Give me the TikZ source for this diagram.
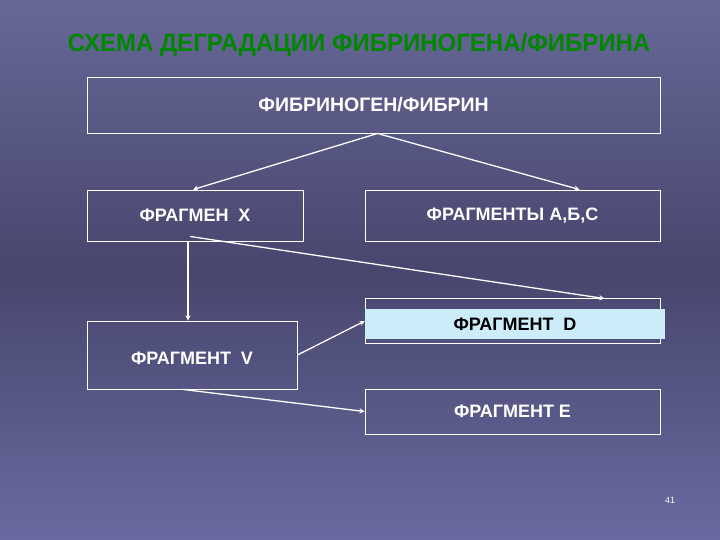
\documentclass[tikz,border=0pt]{standalone}
\usepackage{fontspec}
\setmainfont{Liberation Sans}
\usetikzlibrary{calc}
\definecolor{slatetop}{RGB}{104,104,152}
\definecolor{slatemid}{RGB}{70,70,110}
\definecolor{slatebot}{RGB}{106,106,160}
\definecolor{titlegreen}{RGB}{0,135,0}
\definecolor{paleblue}{RGB}{204,236,250}
\begin{document}
\begin{tikzpicture}[x=1pt,y=-1pt,>=stealth,
  box/.style={draw=white,line width=0.9pt,minimum width=#1,inner sep=0pt,
    text=white,font=\fontsize{18}{21}\selectfont\bfseries},
  link/.style={->,draw=white,line width=1.3pt}]
  % background
  \shade[top color=slatetop,bottom color=slatebot,middle color=slatemid] (0,0) rectangle (720,540);
  \useasboundingbox (0,0) rectangle (720,540);
  % title
  \node (title)[text=titlegreen,xscale=0.96] at (359,45) {\fontsize{25}{29}\selectfont\bfseries СХЕМА ДЕГРАДАЦИИ ФИБРИНОГЕНА/ФИБРИНА};
  % boxes
  \node (fib)[box=573pt,minimum height=56pt,font=\fontsize{19.5}{22}\selectfont\bfseries] at (373.5,105) {ФИБРИНОГЕН/ФИБРИН};
  \node (fx)[box=216pt,minimum height=51pt] at (195,215.5) {ФРАГМЕН\ \ X\hspace{10pt}};
  \node (fabc)[box=295pt,minimum height=51pt] at (512.5,215.5) {ФРАГМЕНТЫ А,Б,С};
  \node (fd)[box=295pt,minimum height=45pt] at (512.5,320.5) {};
  \node (fdfill)[fill=paleblue,minimum width=300pt,minimum height=30pt,inner sep=0pt,
    font=\fontsize{18}{21}\selectfont\bfseries] at (515,324) {ФРАГМЕНТ\ \ D};
  \node (fv)[box=210pt,minimum height=68pt] at (192,355) {\rule{0pt}{20pt}ФРАГМЕНТ\ \ V};
  \node (fe)[box=295pt,minimum height=45pt] at (512.5,411.5) {ФРАГМЕНТ E};
  \node (page)[text=white,font=\fontsize{9}{10}\selectfont] at (670,500) {41};
  % arrows
  \draw[link] ([xshift=4pt]fib.south) -- ([xshift=-2pt]fx.north);
  \draw[link] ([xshift=4pt]fib.south) -- ([xshift=67pt]fabc.north);
  \draw[link] ([xshift=-7pt]fx.south) -- ([xshift=-7pt]fx.south |- fv.north);
  \draw[link] ([xshift=-5pt,yshift=5pt]fx.south) -- ([xshift=92pt,yshift=-1pt]fd.north);
  \draw[link] (fv.east) -- ([yshift=3pt]fdfill.west);
  \draw[link] ([xshift=-9pt]fv.south) -- (fe.west);
\end{tikzpicture}
\end{document}
